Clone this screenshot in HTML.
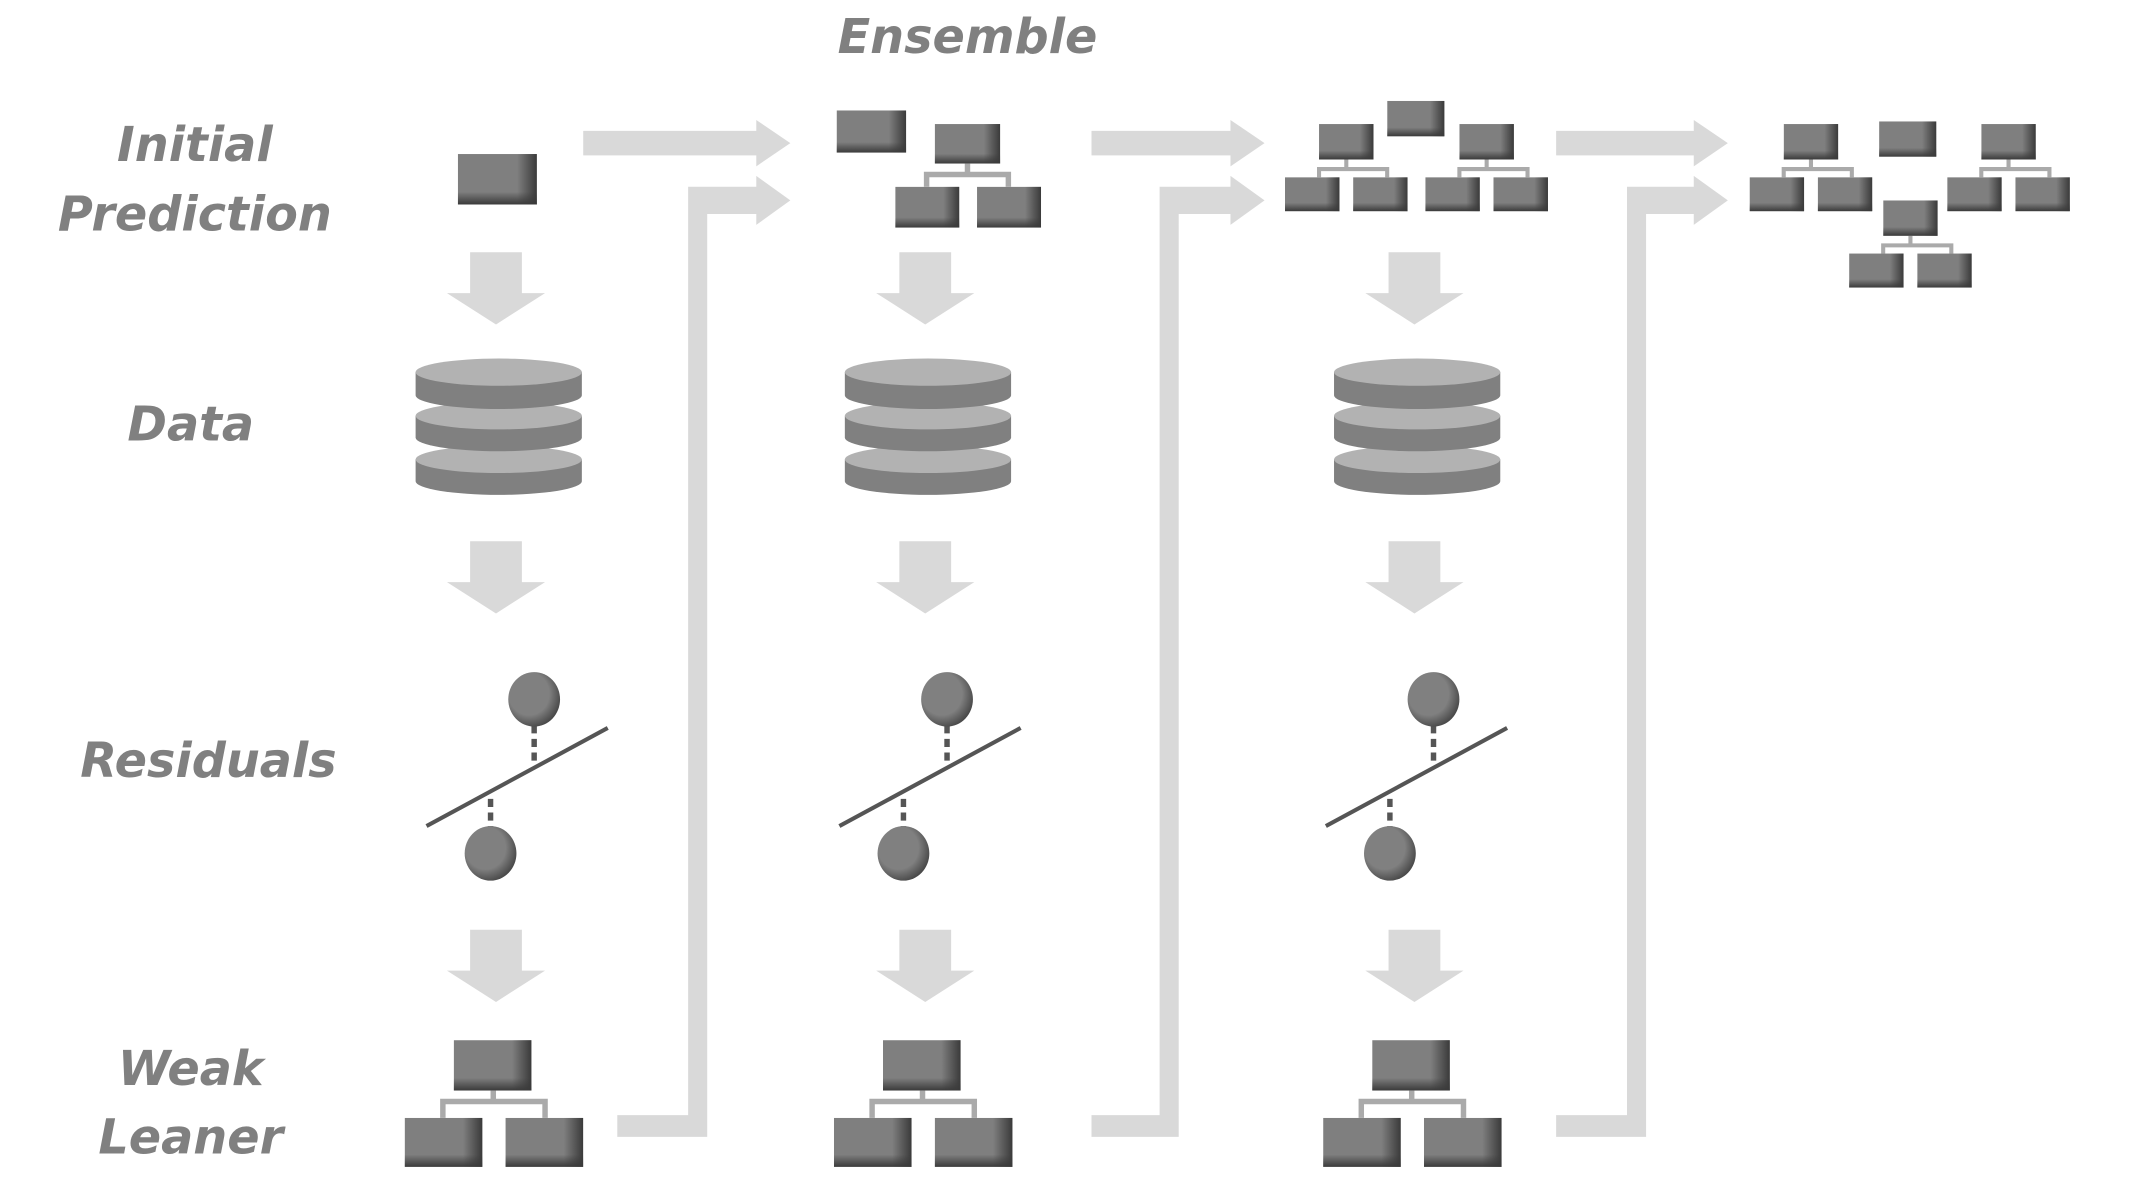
<!DOCTYPE html>
<html><head><meta charset="utf-8"><style>
html,body{margin:0;padding:0;background:#fff;}
svg{display:block;}
text{font-family:"DejaVu Sans","Liberation Sans",sans-serif;font-weight:bold;font-style:italic;fill:#808080;font-size:35px;text-anchor:middle;}
</style></head><body>
<svg width="2138" height="1186" viewBox="0 0 1569 870" preserveAspectRatio="none" xmlns="http://www.w3.org/2000/svg">
<defs>
<linearGradient id="gx" x1="0" x2="1" y1="0" y2="0"><stop offset="0.75" stop-color="#3a3a3a" stop-opacity="0"/><stop offset="1" stop-color="#3a3a3a" stop-opacity="1"/></linearGradient>
<linearGradient id="gy" x1="0" x2="0" y1="0" y2="1"><stop offset="0.75" stop-color="#3a3a3a" stop-opacity="0"/><stop offset="1" stop-color="#3a3a3a" stop-opacity="1"/></linearGradient>
<radialGradient id="gc" cx="0.4" cy="0.4" r="0.65"><stop offset="0.6" stop-color="#808080"/><stop offset="1" stop-color="#444"/></radialGradient>
<symbol id="b" viewBox="0 0 100 100" preserveAspectRatio="none">
<rect width="100" height="100" fill="#7f7f7f"/><rect width="100" height="100" fill="url(#gx)"/><rect width="100" height="100" fill="url(#gy)"/>
</symbol>
<g id="db">
<path d="M0,74 v16 a61,10 0 0 0 122,0 v-16 z" fill="#808080"/><ellipse cx="61" cy="74" rx="61" ry="10" fill="#b2b2b2"/>
<path d="M0,42 v16 a61,10 0 0 0 122,0 v-16 z" fill="#808080"/><ellipse cx="61" cy="42" rx="61" ry="10" fill="#b2b2b2"/>
<path d="M0,10 v17 a61,10 0 0 0 122,0 v-17 z" fill="#808080"/><ellipse cx="61" cy="10" rx="61" ry="10" fill="#b2b2b2"/>
</g>
<path id="da" d="M17,0 h38 v30 h17 l-36,23 l-36,-23 h17 z" fill="#d9d9d9"/>
<g id="res">
<line x1="392" y1="532" x2="392" y2="562" stroke="#555" stroke-width="4" stroke-dasharray="6,4"/>
<line x1="360" y1="586" x2="360" y2="608" stroke="#555" stroke-width="4" stroke-dasharray="6,4"/>
<line x1="313" y1="606" x2="446" y2="534" stroke="#555" stroke-width="3"/>
<ellipse cx="392" cy="513" rx="19" ry="20" fill="url(#gc)"/>
<ellipse cx="360" cy="626" rx="19" ry="20" fill="url(#gc)"/>
</g>
<g id="wl">
<path d="M362,800 v8 M325,820 v-12 h75 v12" stroke="#aaa" stroke-width="4" fill="none"/>
<use href="#b" x="333" y="763" width="57" height="37"/>
<use href="#b" x="297" y="820" width="57" height="36"/>
<use href="#b" x="371" y="820" width="57" height="36"/>
</g>
<g id="st">
<path d="M20,26 v7 M0,39 v-6 h50 v6" stroke="#aaa" stroke-width="3" fill="none"/>
<use href="#b" x="0" y="0" width="40" height="26"/>
<use href="#b" x="-25" y="39" width="40" height="25"/>
<use href="#b" x="25" y="39" width="40" height="25"/>
</g>
</defs>

<text x="143" y="118">Initial</text>
<text x="143" y="169">Prediction</text>
<text x="140" y="323">Data</text>
<text x="153" y="570">Residuals</text>
<text x="140" y="796">Weak</text>
<text x="140" y="846">Leaner</text>
<text x="710" y="39">Ensemble</text>

<g fill="#d9d9d9">
<path d="M428,96 h127 v-8 l25,17 l-25,17 v-8 h-127 z"/>
<path d="M453,818 h52 v-681 h50 v-8 l25,18 l-25,18 v-8 h-36 v677 h-66 z"/>
<path d="M801,96 h102 v-8 l25,17 l-25,17 v-8 h-102 z"/>
<path d="M801,818 h50 v-681 h52 v-8 l25,18 l-25,18 v-8 h-38 v677 h-64 z"/>
<path d="M1142,96 h101 v-8 l25,17 l-25,17 v-8 h-101 z"/>
<path d="M1142,818 h52 v-681 h49 v-8 l25,18 l-25,18 v-8 h-35 v677 h-66 z"/>
</g>

<use href="#b" x="336" y="113" width="58" height="37"/>
<use href="#da" x="328" y="185"/>
<use href="#db" x="305" y="263"/>
<use href="#da" x="328" y="397"/>
<use href="#res"/>
<use href="#da" x="328" y="682"/>
<use href="#wl"/>

<use href="#b" x="614" y="81" width="51" height="31"/>
<path d="M710,120 v8 M680,137 v-9 h60 v9" stroke="#aaa" stroke-width="4" fill="none"/>
<use href="#b" x="686" y="91" width="48" height="29"/>
<use href="#b" x="657" y="137" width="47" height="30"/>
<use href="#b" x="717" y="137" width="47" height="30"/>
<use href="#da" x="643" y="185"/>
<use href="#db" x="620" y="263"/>
<use href="#da" x="643" y="397"/>
<use href="#res" x="303"/>
<use href="#da" x="643" y="682"/>
<use href="#wl" x="315"/>

<use href="#b" x="1018" y="74" width="42" height="26"/>
<use href="#st" x="968" y="91"/>
<use href="#st" x="1071" y="91"/>
<use href="#da" x="1002" y="185"/>
<use href="#db" x="979" y="263"/>
<use href="#da" x="1002" y="397"/>
<use href="#res" x="660"/>
<use href="#da" x="1002" y="682"/>
<use href="#wl" x="674"/>

<use href="#b" x="1379" y="89" width="42" height="26"/>
<use href="#st" x="1309" y="91"/>
<use href="#st" x="1454" y="91"/>
<use href="#st" x="1382" y="147"/>
</svg>
</body></html>
